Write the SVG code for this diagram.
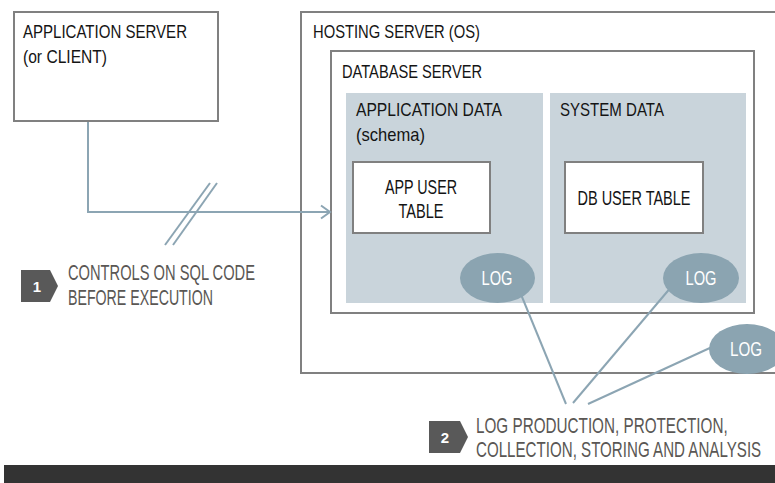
<svg xmlns="http://www.w3.org/2000/svg" width="775" height="483" viewBox="0 0 775 483">
  <style>
    .box { fill: #ffffff; stroke: #808080; stroke-width: 2; }
    .panel { fill: #c9d4db; }
    .lbl { font-family: "Liberation Sans", Arial, sans-serif; font-size: 18.5px; fill: #141414; }
    .tbl { font-family: "Liberation Sans", Arial, sans-serif; font-size: 21px; fill: #141414; text-anchor: middle; }
    .note { font-family: "Liberation Sans", Arial, sans-serif; font-size: 22px; fill: #5a5754; }
    .wire { fill: none; stroke: #8ca5b3; stroke-width: 2; }
    .log { fill: #8ba4b1; }
    .logtxt { font-family: "Liberation Sans", Arial, sans-serif; font-size: 21px; fill: #ffffff; text-anchor: middle; }
    .badge { fill: #595959; }
    .badgetxt { font-family: "Liberation Sans", Arial, sans-serif; font-size: 15px; font-weight: bold; fill: #ffffff; text-anchor: middle; }
  </style>

  <rect width="775" height="483" fill="#ffffff"/>

  <!-- client side -->
  <g id="app-server">
    <rect class="box" x="14" y="12" width="204" height="109"/>
    <text class="lbl" x="23" y="38" textLength="164" lengthAdjust="spacingAndGlyphs">APPLICATION SERVER</text>
    <text class="lbl" x="23" y="63" textLength="84" lengthAdjust="spacingAndGlyphs">(or CLIENT)</text>
  </g>

  <!-- server side -->
  <g id="hosting-server">
    <rect class="box" x="301" y="12" width="500" height="361"/>
    <text class="lbl" x="313" y="38" textLength="167" lengthAdjust="spacingAndGlyphs">HOSTING SERVER (OS)</text>
  </g>

  <g id="database-server">
    <rect class="box" x="331" y="51" width="423" height="262"/>
    <text class="lbl" x="342" y="78" textLength="140" lengthAdjust="spacingAndGlyphs">DATABASE SERVER</text>
  </g>

  <g id="application-data">
    <rect class="panel" x="346" y="93" width="197" height="210"/>
    <text class="lbl" x="356" y="116" textLength="146" lengthAdjust="spacingAndGlyphs">APPLICATION DATA</text>
    <text class="lbl" x="356" y="141" textLength="69" lengthAdjust="spacingAndGlyphs">(schema)</text>
  </g>

  <g id="system-data">
    <rect class="panel" x="550" y="93" width="196" height="210"/>
    <text class="lbl" x="560" y="116" textLength="104" lengthAdjust="spacingAndGlyphs">SYSTEM DATA</text>
  </g>

  <g id="app-user-table">
    <rect class="box" x="353" y="162" width="137" height="71"/>
    <text class="tbl" x="421" y="194" textLength="72" lengthAdjust="spacingAndGlyphs">APP USER</text>
    <text class="tbl" x="421" y="218" textLength="45" lengthAdjust="spacingAndGlyphs">TABLE</text>
  </g>

  <g id="db-user-table">
    <rect class="box" x="565" y="162" width="138" height="71"/>
    <text class="tbl" x="634" y="205" textLength="113" lengthAdjust="spacingAndGlyphs">DB USER TABLE</text>
  </g>

  <!-- connectors -->
  <g id="connectors">
    <path class="wire" d="M88,122 V212 H329"/>
    <path class="wire" d="M321,205.5 L330,212 L321,218.5"/>
    <line class="wire" x1="210" y1="183" x2="165" y2="245"/>
    <line class="wire" x1="217" y1="183" x2="173" y2="245"/>
    <line class="wire" x1="520" y1="292" x2="566" y2="404"/>
    <line class="wire" x1="672" y1="286" x2="573" y2="403"/>
    <line class="wire" x1="712" y1="347" x2="588" y2="404"/>
  </g>

  <g id="log-app">
    <ellipse class="log" cx="497.5" cy="278" rx="37.5" ry="25"/>
    <text class="logtxt" x="497" y="285" textLength="31" lengthAdjust="spacingAndGlyphs">LOG</text>
  </g>

  <g id="log-system">
    <ellipse class="log" cx="701" cy="278" rx="38" ry="25"/>
    <text class="logtxt" x="701" y="285" textLength="31" lengthAdjust="spacingAndGlyphs">LOG</text>
  </g>

  <g id="log-os">
    <ellipse class="log" cx="747" cy="349" rx="38" ry="25"/>
    <text class="logtxt" x="746" y="356" textLength="32" lengthAdjust="spacingAndGlyphs">LOG</text>
  </g>

  <!-- numbered notes -->
  <g id="note-1">
    <path class="badge" d="M21,270 H50 L58,286 L50,302 H21 Z"/>
    <text class="badgetxt" x="37" y="292">1</text>
    <text class="note" x="68" y="280" textLength="187" lengthAdjust="spacingAndGlyphs">CONTROLS ON SQL CODE</text>
    <text class="note" x="68" y="305" textLength="145" lengthAdjust="spacingAndGlyphs">BEFORE EXECUTION</text>
  </g>

  <g id="note-2">
    <path class="badge" d="M429,421 H460 L468,437 L460,453 H429 Z"/>
    <text class="badgetxt" x="445" y="443">2</text>
    <!-- narrowed horizontally so the long lines stay inside the page -->
    <text class="note" transform="translate(476,433) scale(0.62,1)" x="0" y="0" textLength="406" lengthAdjust="spacingAndGlyphs">LOG PRODUCTION, PROTECTION,</text>
    <text class="note" transform="translate(476,457) scale(0.62,1)" x="0" y="0" textLength="460" lengthAdjust="spacingAndGlyphs">COLLECTION, STORING AND ANALYSIS</text>
  </g>

  <!-- footer band -->
  <rect x="4" y="465" width="771" height="18" fill="#333333"/>
</svg>
